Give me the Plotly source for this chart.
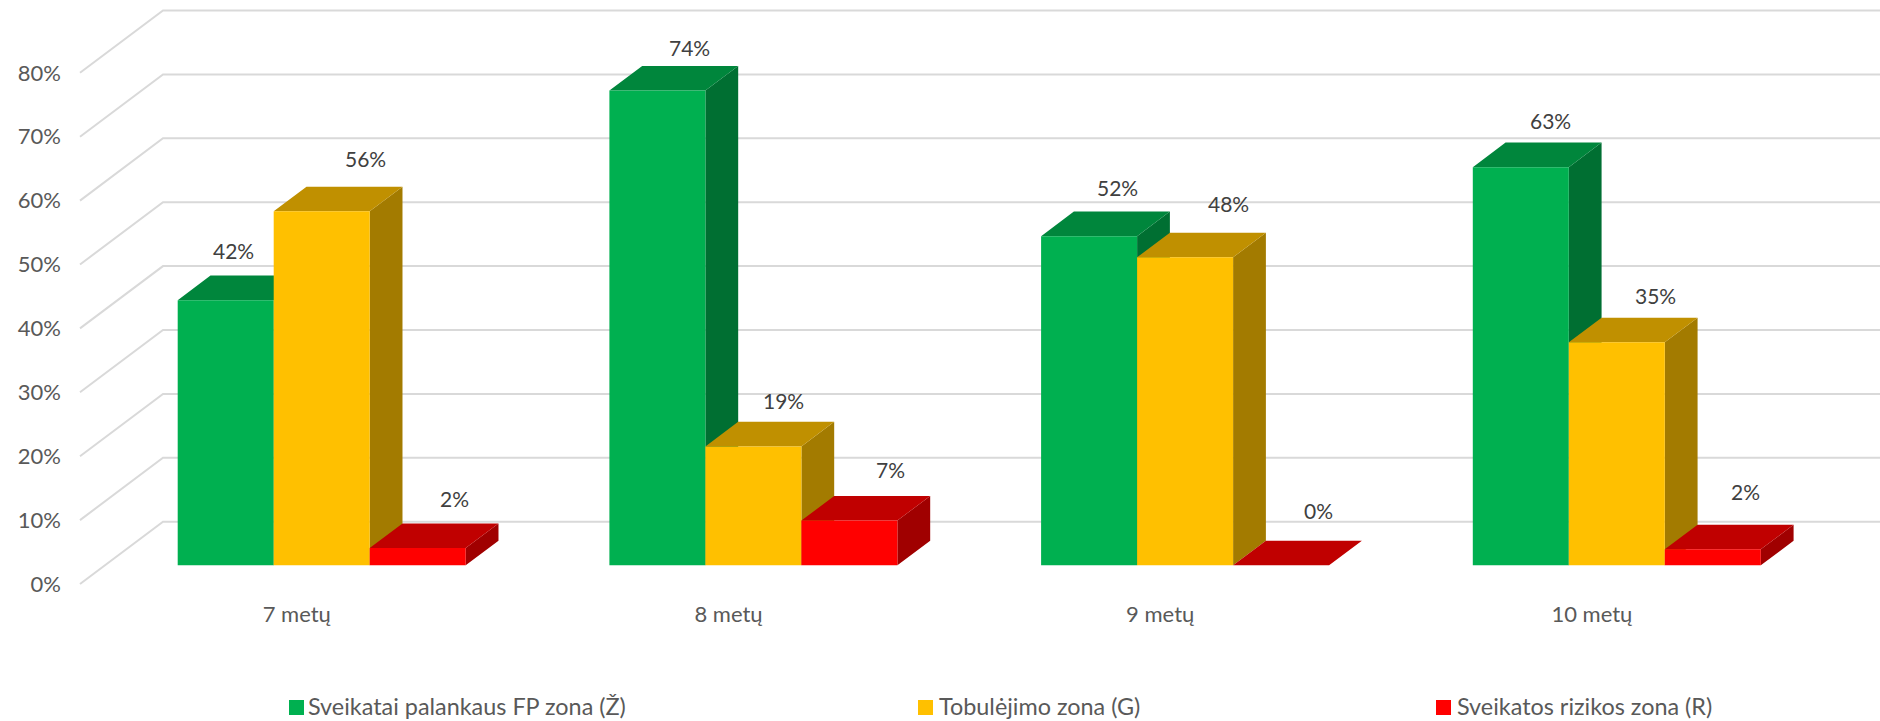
import plotly.graph_objects as go

categories = ["7 metų", "8 metų", "9 metų", "10 metų"]
green = [41.5, 74.3, 51.5, 62.3]
yellow = [55.4, 18.6, 48.2, 34.9]
red = [2.7, 7.0, 0.0, 2.5]
green_labels = ["42%", "74%", "52%", "63%"]
yellow_labels = ["56%", "19%", "48%", "35%"]
red_labels = ["2%", "7%", "0%", "2%"]
names = ["Sveikatai palankaus FP zona (Ž)", "Tobulėjimo zona (G)", "Sveikatos rizikos zona (R)"]
y_ticks = [0, 10, 20, 30, 40, 50, 60, 70, 80]
y_tick_labels = ["0%", "10%", "20%", "30%", "40%", "50%", "60%", "70%", "80%"]

FRONT = ["#00B050", "#FFC000", "#FF0000"]
TOP = ["#00863C", "#C09000", "#C00000"]
SIDE = ["#006F32", "#A37B00", "#A00000"]

W, H = 1880, 721
PX_X = 431.7   # px per category
PX_Y = 6.39    # px per percent
X0 = 296.8     # px of category 0 on the front plane
Y0 = 584.0     # px of 0 % on the front plane
DX = 83 / PX_X     # x displacement of full depth
DY = 62.3 / PX_Y   # y displacement of full depth
D_FRONT, D_REAR = 0.30, 0.695
BAR_W = 96 / PX_X

# pixel nudges of the hand placed data labels, relative to the front top edge centre
shifts = [
    [(8, 50), (32, 43), (28, 49), (30, 47)],
    [(44, 53), (30, 46), (43, 54), (39, 47)],
    [(37, 50), (41, 51), (37, 55), (33, 58)],
]


def proj(x, v, d):
    return x + d * DX, v + d * DY


def poly(points):
    xs = [proj(*p)[0] for p in points] + [proj(*points[0])[0], None]
    ys = [proj(*p)[1] for p in points] + [proj(*points[0])[1], None]
    return xs, ys


fig = go.Figure()

# gridlines: oblique on the side wall, then horizontal on the back wall
x_left = -X0 / PX_X
x_right = (W - X0) / PX_X
gx, gy = [], []
wall = x_left + 80 / PX_X
for t in y_ticks:
    a = proj(wall, t, 0)
    b = proj(wall, t, 1)
    gx += [a[0], b[0], x_right, None]
    gy += [a[1], b[1], b[1], None]
fig.add_trace(go.Scatter(x=gx, y=gy, mode="lines", line=dict(color="#D9D9D9", width=2),
                         showlegend=False, hoverinfo="skip"))

series = [green, yellow, red]
labels = [green_labels, yellow_labels, red_labels]
annotations = []
for s, values in enumerate(series):
    fx, fy, tx, ty, sx, sy = [], [], [], [], [], []
    for i, v in enumerate(values):
        x1 = i + (s - 1.5) * BAR_W
        x2 = x1 + BAR_W
        a, b = poly([(x1, 0, D_FRONT), (x2, 0, D_FRONT), (x2, v, D_FRONT), (x1, v, D_FRONT)])
        fx += a; fy += b
        a, b = poly([(x1, v, D_FRONT), (x2, v, D_FRONT), (x2, v, D_REAR), (x1, v, D_REAR)])
        tx += a; ty += b
        a, b = poly([(x2, 0, D_FRONT), (x2, 0, D_REAR), (x2, v, D_REAR), (x2, v, D_FRONT)])
        sx += a; sy += b
        px, py = proj((x1 + x2) / 2, v, D_FRONT)
        annotations.append(dict(x=px, y=py, xref="x", yref="y", text=labels[s][i], showarrow=False,
                                xshift=shifts[s][i][0], yshift=shifts[s][i][1],
                                font=dict(family="Lato", size=21, color="#404040")))
    for xs, ys, col in [(sx, sy, SIDE[s]), (tx, ty, TOP[s]), (fx, fy, FRONT[s])]:
        fig.add_trace(go.Scatter(x=xs, y=ys, mode="lines", fill="toself", fillcolor=col,
                                 line=dict(width=0, color=col), showlegend=False, hoverinfo="skip"))

# legend placed entry by entry, spaced as in the original
swatch_px = [289, 918, 1436]
text_px = [306, 937, 1455]
shapes = []
for s, name in enumerate(names):
    shapes.append(dict(type="rect", xref="paper", yref="paper", line=dict(width=0), fillcolor=FRONT[s],
                       x0=swatch_px[s] / W, x1=(swatch_px[s] + 15) / W,
                       y0=1 - 715 / H, y1=1 - 700 / H))
    annotations.append(dict(x=text_px[s] / W, y=1 - 706 / H, xref="paper", yref="paper", text=name,
                            showarrow=False, xanchor="left", yanchor="middle",
                            font=dict(family="Lato", size=23.4, color="#595959")))

fig.update_layout(
    width=W, height=H,
    margin=dict(l=0, r=0, t=0, b=0),
    paper_bgcolor="white", plot_bgcolor="white",
    hovermode=False,
    showlegend=False,
    annotations=annotations,
    shapes=shapes,
    xaxis=dict(range=[x_left, x_right], tickvals=list(range(len(categories))), ticktext=categories,
               showgrid=False, zeroline=False, showline=False, ticks="", anchor="free",
               position=1 - 598.5 / H, tickangle=0, automargin=False,
               tickfont=dict(family="Lato", size=22, color="#595959")),
    yaxis=dict(range=[(Y0 - H) / PX_Y, Y0 / PX_Y], tickvals=y_ticks, ticktext=y_tick_labels,
               showgrid=False, zeroline=False, showline=False, ticks="", anchor="free",
               position=61 / W, automargin=False,
               tickfont=dict(family="Lato", size=22, color="#595959")),
)

fig.write_html("out.html", config={"displayModeBar": False},
               post_script="document.body.style.margin='0';")
